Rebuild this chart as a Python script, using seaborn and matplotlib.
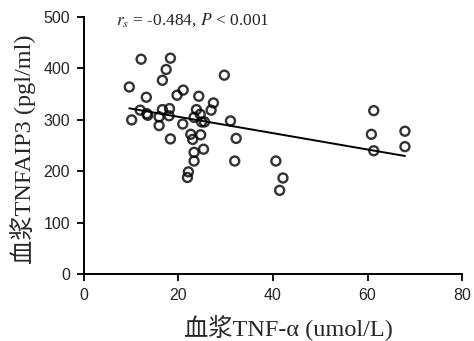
import matplotlib
matplotlib.use("Agg")
import matplotlib.pyplot as plt
import pandas as pd
import seaborn as sns

# TNF-alpha (x) vs TNFAIP3 (y)
tnf_alpha = [9.6, 12.1, 18.3, 17.4, 16.6, 29.7, 13.2, 21.0, 19.7, 24.3,
             27.4, 26.9, 11.9, 13.3, 13.5, 10.1, 15.9, 16.6, 18.1, 18.0,
             15.9, 20.9, 23.8, 24.6, 23.3, 24.9, 25.5, 31.0, 18.3, 22.6,
             24.7, 23.0, 32.2, 25.3, 23.3, 23.3, 31.9, 22.1, 21.9, 40.6,
             42.1, 41.4, 61.3, 60.8, 61.3, 67.9, 67.9]
tnfaip3 = [364, 418, 420, 398, 377, 387, 344, 358, 348, 346,
           333, 319, 319, 312, 309, 300, 306, 320, 322, 308,
           289, 292, 320, 311, 305, 296, 296, 298, 263, 272,
           271, 262, 264, 243, 237, 220, 220, 199, 188, 220,
           187, 163, 318, 272, 240, 278, 248]

x_ticks = [0, 20, 40, 60, 80]
y_ticks = [0, 100, 200, 300, 400, 500]

df = pd.DataFrame({"tnf": tnf_alpha, "tnfaip3": tnfaip3})

sns.set_style("ticks")
plt.rcParams['mathtext.fontset'] = 'stix'

fig = plt.figure(figsize=(4.74, 3.41), dpi=100)
ax = fig.add_axes([0.177, 0.196, 0.798, 0.754])

sns.regplot(
    data=df, x="tnf", y="tnfaip3", ci=None, ax=ax,
    scatter_kws=dict(s=42, facecolors="none", edgecolors="black", linewidths=1.7),
    line_kws=dict(color="black", linewidth=1.4),
)

ax.set_xlim(0, 80)
ax.set_ylim(0, 500)
ax.set_xticks(x_ticks)
ax.set_yticks(y_ticks)

lab_font = dict(family=["Liberation Serif", "Noto Sans CJK SC"], fontsize=17.5)
ax.set_xlabel("血浆TNF-α (umol/L)", labelpad=9, **lab_font)
ax.set_ylabel("血浆TNFAIP3 (pgl/ml)", labelpad=5, **lab_font)
# labels sit a little off-centre in the original
ax.xaxis.label.set_x(0.54)
ax.yaxis.label.set_y(0.485)

for lbl in ax.get_xticklabels() + ax.get_yticklabels():
    lbl.set_family(["Liberation Sans", "DejaVu Sans"])
    lbl.set_fontsize(11.5)

ax.tick_params(direction="out", length=5, width=1.3, color="black", pad=5)
for side in ["left", "bottom"]:
    ax.spines[side].set_linewidth(1.4)
    ax.spines[side].set_color("black")
sns.despine(ax=ax)

ax.text(0.085, 0.99, r"$r_s$ = -0.484, $P$ < 0.001", transform=ax.transAxes,
        ha="left", va="center", fontsize=12.5, family="Liberation Serif")

fig.savefig("out.png", dpi=100)
